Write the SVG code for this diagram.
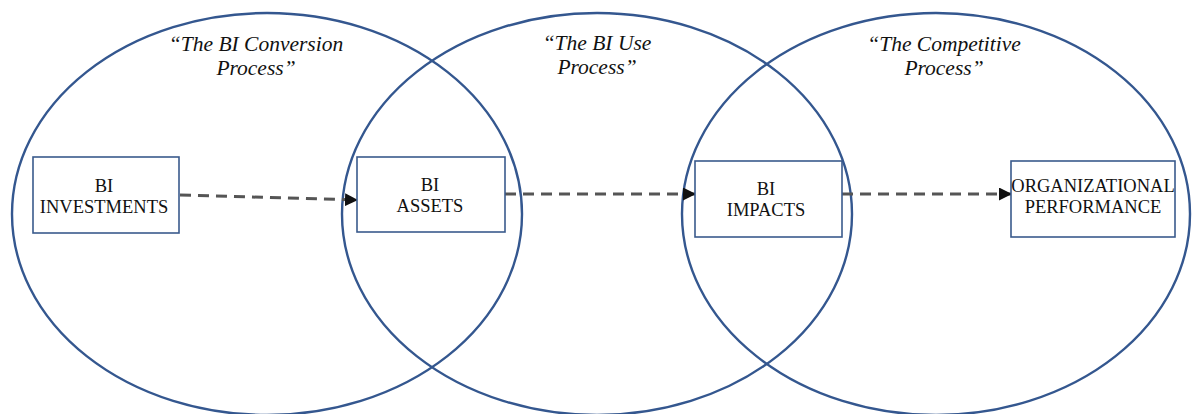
<svg xmlns="http://www.w3.org/2000/svg" width="1192" height="414" viewBox="0 0 1192 414">
  <style>
    .ring { fill: none; stroke: #34578f; stroke-width: 2.4; }
    .box { fill: #ffffff; stroke: #3a5a8c; stroke-width: 1.6; }
    .label { font-family: "Liberation Serif", "Times New Roman", serif; font-size: 18.5px; fill: #111111; text-anchor: middle; }
    .title { font-family: "Liberation Serif", "Times New Roman", serif; font-style: italic; font-size: 21.5px; fill: #111111; text-anchor: middle; }
    .flow { fill: none; stroke: #555555; stroke-width: 3; stroke-dasharray: 11 7; }
  </style>
  <defs>
    <marker id="arrow" viewBox="0 0 13 13" refX="13" refY="6.5" markerWidth="13" markerHeight="13" markerUnits="userSpaceOnUse" orient="auto">
      <path d="M0,0 L13,6.5 L0,13 Z" fill="#111111"/>
    </marker>
  </defs>
  <rect width="1192" height="414" fill="#ffffff"/>

  <!-- three overlapping process areas -->
  <g id="process-areas">
    <ellipse class="ring" cx="267" cy="214" rx="255" ry="201"/>
    <ellipse class="ring" cx="597" cy="214" rx="255" ry="201"/>
    <ellipse class="ring" cx="936" cy="214" rx="254" ry="201"/>
  </g>

  <g id="process-titles">
    <text class="title" x="256" y="51">“The BI Conversion</text>
    <text class="title" x="256" y="75">Process”</text>
    <text class="title" x="597" y="50">“The BI Use</text>
    <text class="title" x="597" y="74">Process”</text>
    <text class="title" x="944" y="51">“The Competitive</text>
    <text class="title" x="944" y="75">Process”</text>
  </g>

  <!-- connectors -->
  <g id="connectors">
    <path class="flow" d="M180,195 L358,200" marker-end="url(#arrow)"/>
    <path class="flow" d="M505,194 L696,194" marker-end="url(#arrow)"/>
    <path class="flow" d="M842,194 L1012,194" marker-end="url(#arrow)"/>
  </g>

  <g id="bi-investments">
    <rect class="box" x="33" y="157" width="146" height="76"/>
    <text class="label" x="104" y="192">BI</text>
    <text class="label" x="104" y="213">INVESTMENTS</text>
  </g>

  <g id="bi-assets">
    <rect class="box" x="357" y="157" width="148" height="75"/>
    <text class="label" x="430" y="191">BI</text>
    <text class="label" x="430" y="212">ASSETS</text>
  </g>

  <g id="bi-impacts">
    <rect class="box" x="695" y="161" width="147" height="76"/>
    <text class="label" x="766" y="195">BI</text>
    <text class="label" x="766" y="216">IMPACTS</text>
  </g>

  <g id="organizational-performance">
    <rect class="box" x="1011" y="161" width="164" height="76"/>
    <text class="label" x="1093" y="192">ORGANIZATIONAL</text>
    <text class="label" x="1093" y="213">PERFORMANCE</text>
  </g>
</svg>
